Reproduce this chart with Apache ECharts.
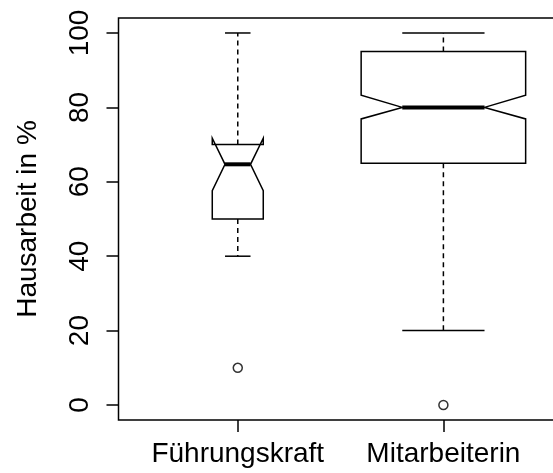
<!DOCTYPE html>
<html>
<head>
<meta charset="utf-8">
<script src="https://cdn.jsdelivr.net/npm/echarts@6/dist/echarts.min.js"></script>
<style>html,body{margin:0;padding:0;background:#fff;overflow:hidden}#c{width:553px;height:473px}</style>
</head>
<body>
<div id="c"></div>
<script>
// ---- data ----
var categories = ['Führungskraft', 'Mitarbeiterin'];
var lowerWhisker = [40, 20];
var q1 = [50, 65];
var median = [64.7, 80];
var q3 = [70, 95];
var upperWhisker = [100, 100];
var notchLow = [57.6, 76.9];
var notchHigh = [71.7, 83.3];
var outliers = [[0, 10], [1, 0]]; // [category index, value]
var yTicks = [0, 20, 40, 60, 80, 100];

// ---- styling (not data) ----
var halfWidth = [0.124, 0.40]; // box half widths in x units (varwidth)
var FONT = 'Liberation Sans, Arial, Helvetica, sans-serif';
var X_MIN = 0.42, X_MAX = 2.533, Y_MIN = -4, Y_MAX = 104;
var FRAME_X_MAX = 2.58; // plot frame continues past the right edge of the picture

var boxData = categories.map(function (c, i) {
  return [i + 1, lowerWhisker[i], q1[i], median[i], q3[i], upperWhisker[i], notchLow[i], notchHigh[i], halfWidth[i]];
});
var outlierData = outliers.map(function (o) { return [o[0] + 1, o[1]]; });

function renderBox(params, api) {
  var x = api.value(0), lo = api.value(1), b1 = api.value(2), md = api.value(3),
      b3 = api.value(4), hi = api.value(5), nl = api.value(6), nh = api.value(7), w = api.value(8);
  function P(dx, y) { return api.coord([x + w * dx, y]); }
  var poly = [P(-1, b1), P(1, b1), P(1, nl), P(0.5, md), P(1, nh), P(1, b3), P(-1, b3), P(-1, nh), P(-0.5, md), P(-1, nl)];
  var dash = { stroke: '#000', lineWidth: 1.5, lineDash: [5, 4] };
  function seg(a, b, st) {
    return { type: 'line', shape: { x1: a[0], y1: a[1], x2: b[0], y2: b[1] }, style: st };
  }
  var children = [
    seg(P(0, b3), P(0, hi), dash),
    seg(P(0, b1), P(0, lo), dash),
    seg(P(-0.5, hi), P(0.5, hi), { stroke: '#000', lineWidth: 1.5 }),
    seg(P(-0.5, lo), P(0.5, lo), { stroke: '#000', lineWidth: 1.5 }),
    { type: 'polygon', shape: { points: poly }, style: { stroke: '#000', lineWidth: 1.5, fill: '#fff' } },
    seg(P(-0.5, md), P(0.5, md), { stroke: '#000', lineWidth: 4 })
  ];
  if (params.dataIndex === 0) {
    var tl = api.coord([X_MIN, Y_MAX]), br = api.coord([FRAME_X_MAX, Y_MIN]);
    children.push({ type: 'rect', shape: { x: tl[0], y: tl[1], width: br[0] - tl[0], height: br[1] - tl[1] },
      style: { stroke: '#000', lineWidth: 1.5, fill: null } });
  }
  return { type: 'group', children: children };
}

var chart = echarts.init(document.getElementById('c'), null, { renderer: 'canvas' });
chart.setOption({
  animation: false,
  backgroundColor: '#fff',
  grid: {
    left: 118.5, top: 18.1, width: 434.5, height: 401.8,
    outerBoundsMode: 'none', containLabel: false, show: false
  },
  xAxis: {
    type: 'value', min: X_MIN, max: X_MAX,
    splitLine: { show: false },
    axisLine: { show: false, onZero: false },
    axisTick: { show: true, customValues: [1, 2], length: 12, lineStyle: { color: '#000', width: 1.5 } },
    axisLabel: {
      customValues: [1, 2], margin: 20, fontSize: 28, fontFamily: FONT, color: '#000',
      formatter: function (v) { return categories[Math.round(v) - 1]; }
    }
  },
  yAxis: {
    type: 'value', min: Y_MIN, max: Y_MAX,
    splitLine: { show: false },
    axisLine: { show: false, onZero: false },
    axisTick: { show: true, customValues: yTicks, length: 12, lineStyle: { color: '#000', width: 1.5 } },
    axisLabel: {
      customValues: yTicks, rotate: 90, margin: 24, fontSize: 28, fontFamily: FONT, color: '#000'
    },
    name: 'Hausarbeit in %',
    nameLocation: 'middle',
    nameRotate: 90,
    nameGap: 76,
    nameTextStyle: { fontSize: 28, fontFamily: FONT, color: '#000' }
  },
  series: [
    {
      type: 'custom',
      renderItem: renderBox,
      data: boxData,
      encode: { x: 0, y: [1, 5] },
      clip: false
    },
    {
      type: 'scatter',
      data: outlierData,
      symbol: 'circle',
      symbolSize: 9,
      itemStyle: { color: '#fff', borderColor: '#000', borderWidth: 1.5 }
    }
  ]
});
</script>
</body>
</html>
